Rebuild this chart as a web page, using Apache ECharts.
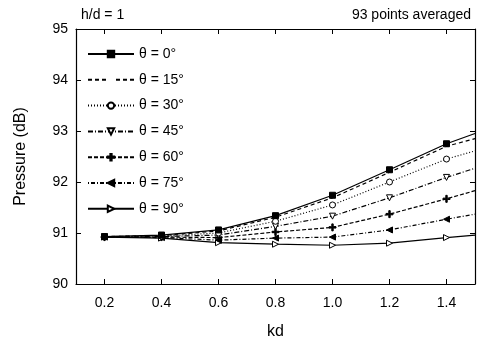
<!DOCTYPE html>
<html>
<head>
<meta charset="utf-8">
<script src="https://cdn.jsdelivr.net/npm/echarts@6/dist/echarts.min.js"></script>
<style>
  html, body { margin: 0; padding: 0; background: #fff; }
  #chart { width: 482px; height: 350px; }
</style>
</head>
<body>
<div id="chart"></div>
<script>
// kd values (last one has no marker)
const kd = [0.2, 0.4, 0.6, 0.8, 1.0, 1.2, 1.4, 1.5]
const xTicks = [0.2, 0.4, 0.6, 0.8, 1.0, 1.2, 1.4]
const yTicks = [90, 91, 92, 93, 94, 95]

const names = ['θ = 0°', 'θ = 15°', 'θ = 30°', 'θ = 45°', 'θ = 60°', 'θ = 75°', 'θ = 90°']
const theta0 = [90.93, 90.96, 91.06, 91.34, 91.74, 92.24, 92.75, 92.95]
const theta15 = [90.93, 90.95, 91.04, 91.31, 91.69, 92.19, 92.70, 92.85]
const theta30 = [90.93, 90.94, 91.00, 91.23, 91.55, 92.00, 92.45, 92.61]
const theta45 = [90.92, 90.93, 90.96, 91.13, 91.33, 91.69, 92.09, 92.27]
const theta60 = [90.92, 90.92, 90.91, 91.02, 91.11, 91.37, 91.67, 91.83]
const theta75 = [90.92, 90.91, 90.86, 90.90, 90.92, 91.06, 91.27, 91.37]
const theta90 = [90.92, 90.90, 90.81, 90.78, 90.76, 90.80, 90.91, 90.96]

const plus = 'path://M4,0H6V4H10V6H6V10H4V6H0V4H4Z'
const styles = [
  { line: 'solid', symbol: 'rect', size: 6, fill: '#000' },
  { line: [4, 3], symbol: 'none', size: 5, fill: '#fff' },
  { line: [1, 2], symbol: 'circle', size: 6, fill: '#fff' },
  { line: [5, 2, 1, 2], symbol: 'triangle', rotate: 180, size: 6, fill: '#fff' },
  { line: [4, 2], symbol: plus, size: 7, fill: '#000' },
  { line: [1, 2, 4, 2], symbol: 'triangle', rotate: 90, size: 6, fill: '#000' },
  { line: 'solid', symbol: 'triangle', rotate: -90, size: 6, fill: '#fff' }
]
const values = [theta0, theta15, theta30, theta45, theta60, theta75, theta90]

const series = values.map((vals, i) => {
  const s = styles[i]
  return {
    name: names[i],
    type: 'line',
    xAxisIndex: 0,
    yAxisIndex: 0,
    symbol: s.symbol,
    symbolSize: s.size,
    symbolRotate: s.rotate || 0,
    showAllSymbol: true,
    z: 10 - i,
    lineStyle: { color: '#000', width: 1.2, type: s.line },
    itemStyle: { color: s.fill, borderColor: '#000', borderWidth: 1 },
    emphasis: { disabled: true },
    data: vals.map((v, j) => kd[j] === 1.5 ? { value: [kd[j], v], symbol: 'none' } : [kd[j], v])
  }
})

const font = 'Liberation Sans, Arial, sans-serif'
const tickX = { show: true, inside: true, length: 5, lineStyle: { color: '#000' }, customValues: xTicks }
const tickY = { show: true, inside: true, length: 5, lineStyle: { color: '#000' } }

const option = {
  animation: false,
  backgroundColor: '#fff',
  title: [
    { text: 'h/d = 1', left: 76, top: 3, textStyle: { fontFamily: font, fontSize: 14, fontWeight: 'normal', color: '#000' } },
    { text: '93 points averaged', right: 6, top: 3, textStyle: { fontFamily: font, fontSize: 14, fontWeight: 'normal', color: '#000' } }
  ],
  grid: { left: 76, right: 7, top: 29, bottom: 66 },
  legend: {
    orient: 'vertical',
    left: 82,
    top: 42,
    itemWidth: 46,
    itemHeight: 8,
    itemGap: 11.8,
    textStyle: { fontFamily: font, fontSize: 14, color: '#000' },
    data: names.map((n, i) => i === 1
      ? { name: n, itemStyle: { color: '#fff', borderColor: '#fff' } }
      : { name: n })
  },
  xAxis: [
    {
      type: 'value', min: 0.1, max: 1.5, position: 'bottom',
      name: 'kd', nameLocation: 'middle', nameGap: 40,
      nameTextStyle: { fontFamily: font, fontSize: 16, color: '#000' },
      axisLine: { show: true, lineStyle: { color: '#000', width: 1.2 } },
      axisTick: tickX,
      axisLabel: { customValues: xTicks, formatter: v => v.toFixed(1), fontFamily: font, fontSize: 14, color: '#000', margin: 12 },
      splitLine: { show: false }
    },
    {
      type: 'value', min: 0.1, max: 1.5, position: 'top',
      axisLine: { show: true, lineStyle: { color: '#000', width: 1.2 } },
      axisTick: tickX,
      axisLabel: { show: false },
      splitLine: { show: false }
    }
  ],
  yAxis: [
    {
      type: 'value', min: yTicks[0], max: yTicks[yTicks.length - 1], interval: 1, position: 'left',
      name: 'Pressure (dB)', nameLocation: 'middle', nameGap: 47,
      nameTextStyle: { fontFamily: font, fontSize: 16, color: '#000' },
      axisLine: { show: true, lineStyle: { color: '#000', width: 1.2 } },
      axisTick: tickY,
      axisLabel: { fontFamily: font, fontSize: 14, color: '#000', margin: 8 },
      splitLine: { show: false }
    },
    {
      type: 'value', min: yTicks[0], max: yTicks[yTicks.length - 1], interval: 1, position: 'right',
      axisLine: { show: true, lineStyle: { color: '#000', width: 1.2 } },
      axisTick: tickY,
      axisLabel: { show: false },
      splitLine: { show: false }
    }
  ],
  series: series
}

const chart = echarts.init(document.getElementById('chart'), null, { renderer: 'canvas' })
chart.setOption(option)
</script>
</body>
</html>
